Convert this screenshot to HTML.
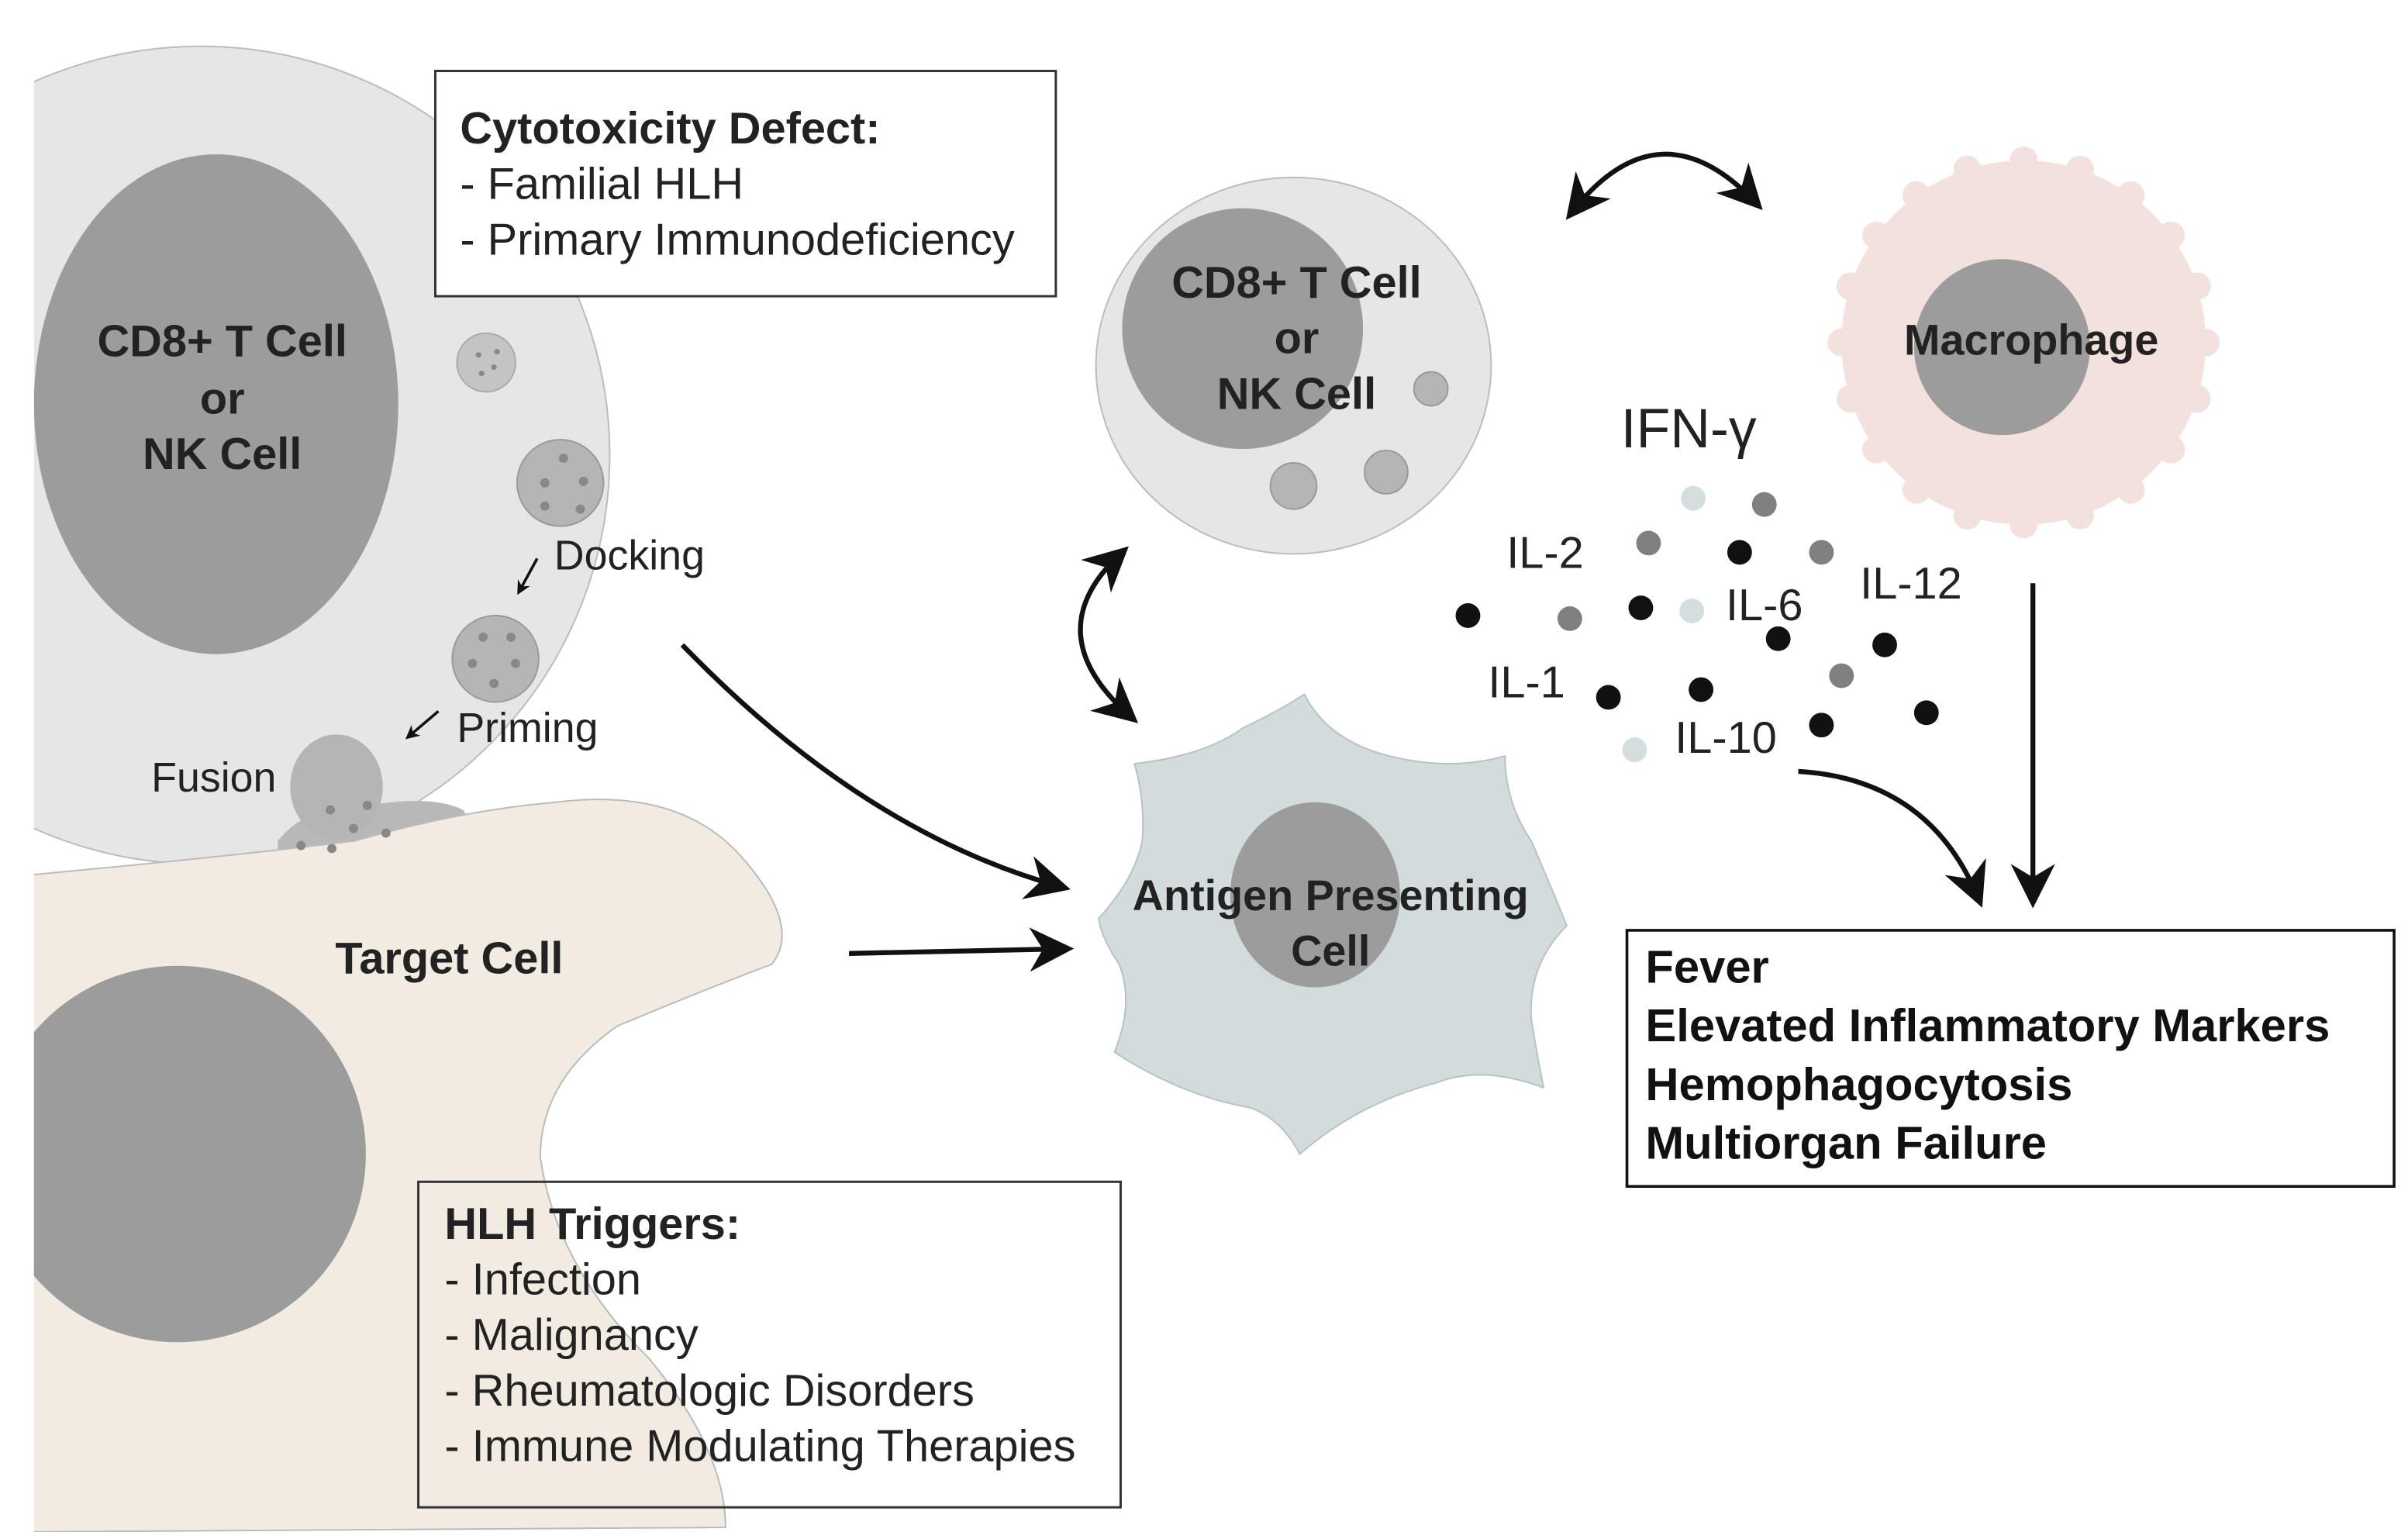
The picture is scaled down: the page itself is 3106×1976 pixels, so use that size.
<!DOCTYPE html>
<html><head><meta charset="utf-8"><style>
html,body{margin:0;padding:0;background:#fff;}
svg{display:block;}
text{font-family:"Liberation Sans",Arial,sans-serif;}
.b{font-weight:bold;}
</style></head><body>
<svg width="3106" height="1976" viewBox="0 0 1560 993" preserveAspectRatio="none" xmlns="http://www.w3.org/2000/svg">
<defs>
<marker id="a" viewBox="0 0 10 10" refX="8" refY="5" markerWidth="9" markerHeight="9" orient="auto-start-reverse"><path d="M0,0 L10,5 L0,10 L3,5 z" fill="#111"/></marker>
<marker id="s" viewBox="0 0 10 10" refX="8" refY="5" markerWidth="5" markerHeight="5" orient="auto"><path d="M0,0 L10,5 L0,10 L3,5 z" fill="#111"/></marker>
<clipPath id="cl"><rect x="22" y="0" width="1540" height="993"/></clipPath>
</defs>
<rect width="1560" height="993" fill="#fff"/>
<g clip-path="url(#cl)">
<circle cx="130" cy="295" r="265" fill="#e6e6e6" stroke="#bcbcbc" stroke-width="1"/>
<ellipse cx="140" cy="262" rx="118" ry="162" fill="#9c9c9c"/>
<path d="M180,545 Q200,520 240,522 Q280,515 300,525 L310,540 Q250,560 180,570 Z" fill="#b8b8b8"/>
<path d="M10,568 Q150,555 230,545 Q300,525 360,520 Q440,510 480,555 Q520,600 500,625 Q460,640 400,665 Q350,700 350,750 Q360,820 420,880 Q470,940 470,990 L10,993 Z" fill="#f2ebe1" stroke="#bbb" stroke-width="1"/>
<circle cx="115" cy="748" r="122" fill="#9c9c9c"/>
</g>
<circle cx="315" cy="235" r="19" fill="#c4c4c4" stroke="#aaa"/>
<circle cx="310" cy="230" r="1.8" fill="#888"/><circle cx="320" cy="238" r="1.8" fill="#888"/><circle cx="312" cy="242" r="1.8" fill="#888"/><circle cx="322" cy="228" r="1.8" fill="#888"/>
<circle cx="363" cy="313" r="28" fill="#b5b5b5" stroke="#999"/>
<circle cx="365" cy="297" r="3" fill="#888"/><circle cx="353" cy="313" r="3" fill="#888"/><circle cx="378" cy="312" r="3" fill="#888"/><circle cx="353" cy="328" r="3" fill="#888"/><circle cx="376" cy="330" r="3" fill="#888"/>
<circle cx="321" cy="427" r="28" fill="#b5b5b5" stroke="#999"/>
<circle cx="313" cy="413" r="3" fill="#888"/><circle cx="331" cy="413" r="3" fill="#888"/><circle cx="306" cy="430" r="3" fill="#888"/><circle cx="334" cy="430" r="3" fill="#888"/><circle cx="320" cy="443" r="3" fill="#888"/>
<ellipse cx="218" cy="510" rx="30" ry="34" fill="#b5b5b5"/>
<circle cx="214" cy="525" r="3" fill="#888"/><circle cx="238" cy="522" r="3" fill="#888"/><circle cx="229" cy="537" r="3" fill="#888"/><circle cx="195" cy="548" r="3" fill="#888"/><circle cx="215" cy="550" r="3" fill="#888"/><circle cx="250" cy="540" r="3" fill="#888"/>
<line x1="348" y1="362" x2="336" y2="384" stroke="#111" stroke-width="1.8" marker-end="url(#s)"/>
<line x1="284" y1="461" x2="264" y2="478" stroke="#111" stroke-width="1.8" marker-end="url(#s)"/>
<text x="359" y="369" font-size="27" fill="#222">Docking</text>
<text x="296" y="481" font-size="27" fill="#222">Priming</text>
<text x="98" y="513" font-size="27" fill="#222">Fusion</text>
<g font-size="29" fill="#222" text-anchor="middle">
<text x="144" y="231" class="b">CD8+ T Cell</text>
<text x="144" y="268" class="b">or</text>
<text x="144" y="304" class="b">NK Cell</text>
<text x="291" y="631" class="b">Target Cell</text>
</g>
<rect x="282" y="46" width="402" height="146" fill="#fff" stroke="#333" stroke-width="1.5"/>
<text x="298" y="93" font-size="29" class="b" fill="#222">Cytotoxicity Defect:</text>
<text x="298" y="129" font-size="29" fill="#222">- Familial HLH</text>
<text x="298" y="165" font-size="29" fill="#222">- Primary Immunodeficiency</text>
<rect x="271" y="766" width="455" height="211" fill="none" stroke="#333" stroke-width="1.5"/>
<text x="288" y="803" font-size="29" class="b" fill="#222">HLH Triggers:</text>
<text x="288" y="839" font-size="29" fill="#222">- Infection</text>
<text x="288" y="875" font-size="29" fill="#222">- Malignancy</text>
<text x="288" y="911" font-size="29" fill="#222">- Rheumatologic Disorders</text>
<text x="288" y="947" font-size="29" fill="#222">- Immune Modulating Therapies</text>
<rect x="1054" y="603" width="497" height="166" fill="#fff" stroke="#111" stroke-width="1.8"/>
<g font-size="30" fill="#111">
<text x="1066" y="637" class="b">Fever</text>
<text x="1066" y="675" class="b">Elevated Inflammatory Markers</text>
<text x="1066" y="713" class="b">Hemophagocytosis</text>
<text x="1066" y="751" class="b">Multiorgan Failure</text>
</g>
<ellipse cx="838" cy="237" rx="128" ry="122" fill="#e6e6e6" stroke="#bcbcbc"/>
<circle cx="805" cy="213" r="78" fill="#9c9c9c"/>
<circle cx="838" cy="315" r="15" fill="#b5b5b5" stroke="#999"/><circle cx="898" cy="306" r="14" fill="#b5b5b5" stroke="#999"/><circle cx="927" cy="252" r="11" fill="#b5b5b5" stroke="#999"/>
<g font-size="29" fill="#222" text-anchor="middle">
<text x="840" y="193" class="b">CD8+ T Cell</text>
<text x="840" y="229" class="b">or</text>
<text x="840" y="265" class="b">NK Cell</text>
</g>
<g transform="translate(1311,222)" fill="#f3e1dd">
<circle r="118"/>
<circle cx="118" cy="0" r="9"/><circle cx="112.2" cy="36.5" r="9"/><circle cx="95.5" cy="69.4" r="9"/><circle cx="69.4" cy="95.5" r="9"/><circle cx="36.5" cy="112.2" r="9"/><circle cx="0" cy="118" r="9"/><circle cx="-36.5" cy="112.2" r="9"/><circle cx="-69.4" cy="95.5" r="9"/><circle cx="-95.5" cy="69.4" r="9"/><circle cx="-112.2" cy="36.5" r="9"/><circle cx="-118" cy="0" r="9"/><circle cx="-112.2" cy="-36.5" r="9"/><circle cx="-95.5" cy="-69.4" r="9"/><circle cx="-69.4" cy="-95.5" r="9"/><circle cx="-36.5" cy="-112.2" r="9"/><circle cx="0" cy="-118" r="9"/><circle cx="36.5" cy="-112.2" r="9"/><circle cx="69.4" cy="-95.5" r="9"/><circle cx="95.5" cy="-69.4" r="9"/><circle cx="112.2" cy="-36.5" r="9"/>
<circle cx="-14" cy="3" r="57" fill="#9c9c9c"/>
</g>
<text x="1316" y="230" font-size="28" class="b" fill="#222" text-anchor="middle">Macrophage</text>
<path d="M845,450 Q860,480 900,490 Q940,500 975,490 Q975,520 992,545 Q1005,575 1015,600 Q990,625 992,660 Q995,680 1000,705 Q960,690 930,702 Q880,715 842,748 Q830,725 810,718 Q765,710 722,682 Q735,650 725,625 Q712,605 712,595 Q735,570 740,545 Q742,520 735,495 Q780,490 805,472 Q830,460 845,450 Z" fill="#d3dcdc" stroke="#b8c2c2" stroke-width="1"/>
<ellipse cx="852" cy="580" rx="55" ry="60" fill="#9c9c9c"/>
<text x="862" y="590" font-size="28" class="b" fill="#222" text-anchor="middle">Antigen Presenting</text>
<text x="862" y="626" font-size="28" class="b" fill="#222" text-anchor="middle">Cell</text>
<g fill="none" stroke="#111" stroke-width="3.2">
<path d="M442,418 Q560,540 688,575" marker-end="url(#a)"/>
<path d="M550,618 L690,615" marker-end="url(#a)"/>
<path d="M727,358 Q670,410 733,465" marker-start="url(#a)" marker-end="url(#a)"/>
<path d="M1018,138 Q1075,65 1138,132" marker-start="url(#a)" marker-end="url(#a)"/>
<path d="M1165,500 Q1250,505 1282,583" marker-end="url(#a)"/>
<path d="M1317,378 L1317,583" marker-end="url(#a)"/>
</g>
<g>
<circle cx="1097" cy="323" r="8" fill="#d5dede"/><circle cx="1143" cy="327" r="8" fill="#808080"/><circle cx="1068" cy="352" r="8" fill="#808080"/><circle cx="1127" cy="358" r="8" fill="#111"/><circle cx="1180" cy="358" r="8" fill="#808080"/>
<circle cx="951" cy="399" r="8" fill="#111"/><circle cx="1017" cy="401" r="8" fill="#808080"/><circle cx="1063" cy="394" r="8" fill="#111"/><circle cx="1096" cy="396" r="8" fill="#d5dede"/><circle cx="1152" cy="414" r="8" fill="#111"/><circle cx="1221" cy="418" r="8" fill="#111"/><circle cx="1193" cy="438" r="8" fill="#808080"/><circle cx="1042" cy="452" r="8" fill="#111"/><circle cx="1102" cy="447" r="8" fill="#111"/><circle cx="1180" cy="470" r="8" fill="#111"/><circle cx="1248" cy="462" r="8" fill="#111"/><circle cx="1059" cy="486" r="8" fill="#d5dede"/>
</g>
<g font-size="29" fill="#222">
<text x="1050" y="290" font-size="36">IFN-γ</text>
<text x="976" y="368">IL-2</text>
<text x="1118" y="402">IL-6</text>
<text x="1205" y="388">IL-12</text>
<text x="964" y="452">IL-1</text>
<text x="1085" y="488">IL-10</text>
</g>
</svg>
</body></html>
